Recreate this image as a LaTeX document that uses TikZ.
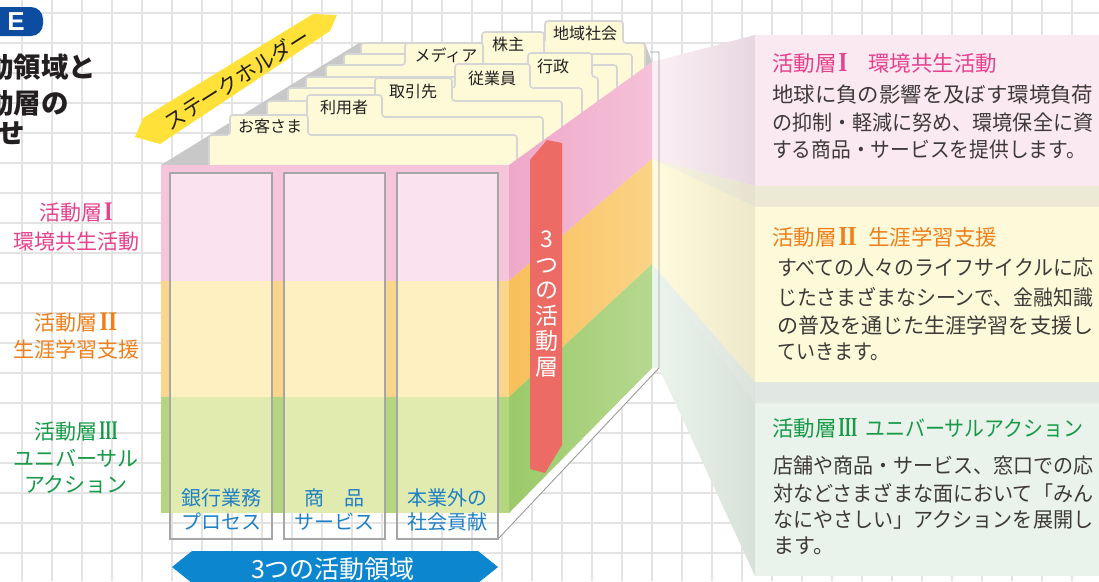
\documentclass[tikz,border=0pt]{standalone}
\usepackage{fontspec}
\usepackage{graphicx}
\setmainfont{Noto Sans CJK JP}
\newfontfamily\romf{Liberation Serif}
\newfontfamily\lsans{Liberation Sans}
\newcommand\fsz[1]{\fontsize{#1}{#1}\selectfont}
\newcommand\fitw[2]{\resizebox{#1}{\height}{#2}}
\newcommand\numI{\kern2pt{\romf\bfseries\scalebox{1.05}[1.28]{I}}}
\newcommand\numII{\kern2pt{\romf\bfseries\scalebox{1.08}[1.28]{II}}}
\newcommand\numIII{\kern2pt{\romf\bfseries\scalebox{0.74}[1.28]{III}}}
\definecolor{gridc}{HTML}{E3E3E3}
\definecolor{ink}{HTML}{231F20}
\definecolor{bodyink}{HTML}{3E3A39}
\definecolor{pinkT}{HTML}{E5418C}
\definecolor{orangeT}{HTML}{EE7F1B}
\definecolor{greenT}{HTML}{179A48}
\definecolor{blueT}{HTML}{1F80C5}
\definecolor{fPink}{HTML}{F6C5DB}
\definecolor{fPinkIn}{HTML}{FAE3EE}
\definecolor{fOr}{HTML}{FCD58D}
\definecolor{fOrIn}{HTML}{FEF0C0}
\definecolor{fGr}{HTML}{B3D67F}
\definecolor{fGrIn}{HTML}{E1EBB0}
\definecolor{spL}{HTML}{EFA8C8}
\definecolor{spR}{HTML}{F5C1D8}
\definecolor{soL}{HTML}{F8BF5A}
\definecolor{soR}{HTML}{FBD387}
\definecolor{sgL}{HTML}{9BCA69}
\definecolor{sgR}{HTML}{B6D88F}
\definecolor{cardfill}{HTML}{FEFAD8}
\definecolor{cardline}{HTML}{D5D5D5}
\definecolor{topgray}{HTML}{C8C8C8}
\definecolor{redband}{HTML}{EC6B64}
\definecolor{yband}{HTML}{FFE13A}
\definecolor{bband}{HTML}{0C86CF}
\definecolor{eblue}{HTML}{0D4DA1}
\definecolor{colline}{HTML}{A6A6A6}
\definecolor{outl}{HTML}{9C9C9C}
\definecolor{panelI}{HTML}{FBE9F2}
\definecolor{wIL}{HTML}{FCF0F5}
\definecolor{wIR}{HTML}{E8D7E1}
\definecolor{panelII}{HTML}{FEFAD9}
\definecolor{wIIL}{HTML}{FFFBDE}
\definecolor{wIIR}{HTML}{EDE8C9}
\definecolor{panelIII}{HTML}{E9F3EB}
\definecolor{wIIIL}{HTML}{EBF4ED}
\definecolor{wIIIR}{HTML}{D8E1D9}
\definecolor{sIL}{HTML}{F8F5E2}
\definecolor{sIR}{HTML}{E5E2CE}
\definecolor{sIIL}{HTML}{EEF2EE}
\definecolor{sIIR}{HTML}{DCE3DD}
\definecolor{bandI}{HTML}{ECE9D5}
\definecolor{bandII}{HTML}{E1E7E2}
\tikzset{
  gridline/.style={draw=gridc, line width=1.4pt},
  card/.style={fill=cardfill, draw=cardline, line width=1.6pt, rounded corners=3pt},
  tablabel/.style={font=\fsz{16}, text=ink, inner sep=0pt},
  sidelabel/.style={align=center, inner sep=0pt},
  coltext/.style={font=\fsz{20}, text=blueT, inner sep=0pt},
  body/.style={font=\fsz{21}, text=bodyink, anchor=west, inner sep=0pt},
  ptitle/.style={font=\fsz{21.5}, anchor=west, inner sep=0pt},
  colframe/.style={draw=colline, line width=1.2pt},
  titletxt/.style={font=\fsz{27.5}\bfseries, text=ink, anchor=west, inner sep=0pt},
}
\begin{document}
\begin{tikzpicture}[x=1pt,y=-1pt]
\useasboundingbox (0,0) rectangle (1099,581);
\fill[white] (0,0) rectangle (1099,581);
% grid
\foreach \gx in {22,52,...,1092} \draw[gridline] (\gx,0) -- (\gx,581);
\foreach \gy in {13,43,...,580} \draw[gridline] (0,\gy) -- (1099,\gy);

% top-left heading (cut by the left edge as in the source)
\fill[eblue, rounded corners=12pt] (-20,7) rectangle (43,36);
\node[font=\fsz{26}\lsans\bfseries, text=white, inner sep=0pt] (etab) at (16,22) {E};
\node[titletxt] (h1) at (-14,67) {動領域と};
\node[titletxt] (h2) at (-14,103) {動層の};
\node[titletxt] (h3) at (-3,133) {せ};

% left labels
\node[sidelabel, text=pinkT, font=\fontsize{21}{29}\selectfont] (l1) at (76,227) {活動層\numI\\環境共生活動};
\node[sidelabel, text=orangeT, font=\fontsize{21}{27}\selectfont] (l2) at (76,336) {活動層\numII\\生涯学習支援};
\node[sidelabel, text=greenT, font=\fontsize{21}{26.5}\selectfont] (l3) at (76,458) {活動層\numIII\\ユニバーサル\\アクション};

% projections to the right panels
\shade[left color=wIL, right color=wIR] (652,62) -- (755,35) -- (755,186) -- (652,159) -- cycle;
\shade[left color=sIL, right color=sIR] (652,159) -- (755,186) -- (755,207) -- cycle;
\shade[left color=wIIL, right color=wIIR] (652,159) -- (755,207) -- (755,382) -- (652,264) -- cycle;
\shade[left color=sIIL, right color=sIIR] (652,264) -- (755,382) -- (755,403) -- cycle;
\shade[left color=wIIIL, right color=wIIIR] (652,264) -- (755,403) -- (755,576) -- (659,368) -- (652,368) -- cycle;
\fill[panelI] (755,35) rectangle (1099,186);
\fill[bandI] (755,186) rectangle (1099,207);
\fill[panelII] (755,207) rectangle (1099,382);
\fill[bandII] (755,382) rectangle (1099,403);
\fill[panelIII] (755,403) rectangle (1099,576);

% panel I text
\node[ptitle, text=pinkT] (p1t) at (772,63) {活動層\numI};
\node[ptitle, text=pinkT] (p1u) at (868,63) {環境共生活動};
\node[body] (p1a) at (772,95) {\fitw{321pt}{地球に負の影響を及ぼす環境負荷}};
\node[body] (p1b) at (772,123) {\fitw{321pt}{の抑制・軽減に努め、環境保全に資}};
\node[body] (p1c) at (772,150) {\fitw{314pt}{する商品・サービスを提供します。}};
% panel II text
\node[ptitle, text=orangeT] (p2t) at (772,237) {活動層\numII};
\node[ptitle, text=orangeT] (p2u) at (868,237) {生涯学習支援};
\node[body] (p2a) at (777,268) {\fitw{316pt}{すべての人々のライフサイクルに応}};
\node[body] (p2b) at (777,297) {\fitw{316pt}{じたさまざまなシーンで、金融知識}};
\node[body] (p2c) at (777,325) {\fitw{316pt}{の普及を通じた生涯学習を支援し}};
\node[body] (p2d) at (777,352) {\fitw{112pt}{ていきます。}};
% panel III text
\node[ptitle, text=greenT] (p3t) at (772,428) {活動層\numIII};
\node[ptitle, text=greenT] (p3u) at (865,428) {\fitw{218pt}{ユニバーサルアクション}};
\node[body] (p3a) at (773,466) {\fitw{320pt}{店舗や商品・サービス、窓口での応}};
\node[body] (p3b) at (773,493) {\fitw{320pt}{対などさまざまな面において「みん}};
\node[body] (p3c) at (773,520) {\fitw{320pt}{なにやさしい」アクションを展開し}};
\node[body] (p3d) at (773,546) {ます。};

% top face of the cube
\fill[topgray] (161,165) -- (359,43) -- (645,43) -- (652,62) -- (509,165) -- cycle;
% stakeholder cards, back to front
\foreach \xl/\yt/\ta/\tb/\tt/\xr in {361/43/545/623/21/645, 344/54/482/544/32/632, 326/65/405/483/43/617, 306/77/528/592/53/598, 288/88/455/530/64/582, 267/101/375/452/78/562, 241/117/307/382/95/543, 209/135/230/308/115/517}
  \filldraw[card] (\xl,168) -- (\xl,\yt) -- (\ta,\yt) -- (\ta,\tt) -- (\tb,\tt) -- (\tb,\yt) -- (\xr,\yt) -- (\xr,168) -- cycle;
\node[tablabel] (t7) at (585,33) {地域社会};
\node[tablabel] (t6) at (508,44) {株主};
\node[tablabel] (t5) at (446,55) {メディア};
\node[tablabel] (t4) at (553,66) {行政};
\node[tablabel] (t3) at (492,78) {従業員};
\node[tablabel] (t2) at (413,91) {取引先};
\node[tablabel] (t1) at (344,107) {利用者};
\node[tablabel] (t0) at (270,126) {お客さま};

% front face
\fill[fPink] (161,165) rectangle (509,281);
\fill[fOr] (161,281) rectangle (509,397);
\fill[fGr] (161,397) rectangle (509,513);
\foreach \ca/\cb in {170/272,284/385,397/498} {
  \fill[fPinkIn] (\ca,173) rectangle (\cb,281);
  \fill[fOrIn] (\ca,281) rectangle (\cb,397);
  \fill[fGrIn] (\ca,397) rectangle (\cb,513);
}
% white base under the side face
\fill[white] (498,513) -- (509,513) -- (652,368) -- (659,368) -- (498,539) -- cycle;
% side face
\shade[left color=spL, right color=spR] (509,165) -- (652,62) -- (652,159) -- (509,281) -- cycle;
\shade[left color=soL, right color=soR] (509,281) -- (652,159) -- (652,264) -- (509,397) -- cycle;
\shade[left color=sgL, right color=sgR] (509,397) -- (652,264) -- (652,368) -- (509,513) -- cycle;
\foreach \ca/\cb in {170/272,284/385,397/498}
  \draw[colframe] (\ca,173) rectangle (\cb,539);
\draw[draw=outl, line width=0.9pt] (650,52) -- (659,52) -- (659,368) -- (498,539);

% column labels
\node[coltext] (c1a) at (221,498) {銀行業務};
\node[coltext] (c1b) at (221,522) {プロセス};
\node[coltext] (c2a) at (334.5,498) {商　品};
\node[coltext] (c2b) at (334.5,522) {サービス};
\node[coltext] (c3a) at (447.5,498) {本業外の};
\node[coltext] (c3b) at (447.5,522) {社会貢献};

% red band on the side
\fill[redband] (530,160) -- (547,140) -- (562,143) -- (562,445) -- (545,473) -- (530,469) -- cycle;
\node[align=center, text=white, font=\fontsize{23}{25.6}\selectfont, inner sep=0pt] (layers) at (547,304) {3\\つ\\の\\活\\動\\層};

% stakeholder banner
\fill[yband] (135,137) -- (143,118) -- (313,14) -- (337,15) -- (330,31) -- (160,144) -- cycle;
\node[rotate=32.5, font=\fsz{21}, text=ink, inner sep=0pt] (sh) at (237,79) {ステークホルダー};

% bottom banner
\fill[bband] (172,567) -- (192,551) -- (478,551) -- (498,567) -- (478,583) -- (192,583) -- cycle;
\node[font=\fsz{25}, text=white, inner sep=0pt] (areas) at (333,569) {3つの活動領域};
\end{tikzpicture}
\end{document}
